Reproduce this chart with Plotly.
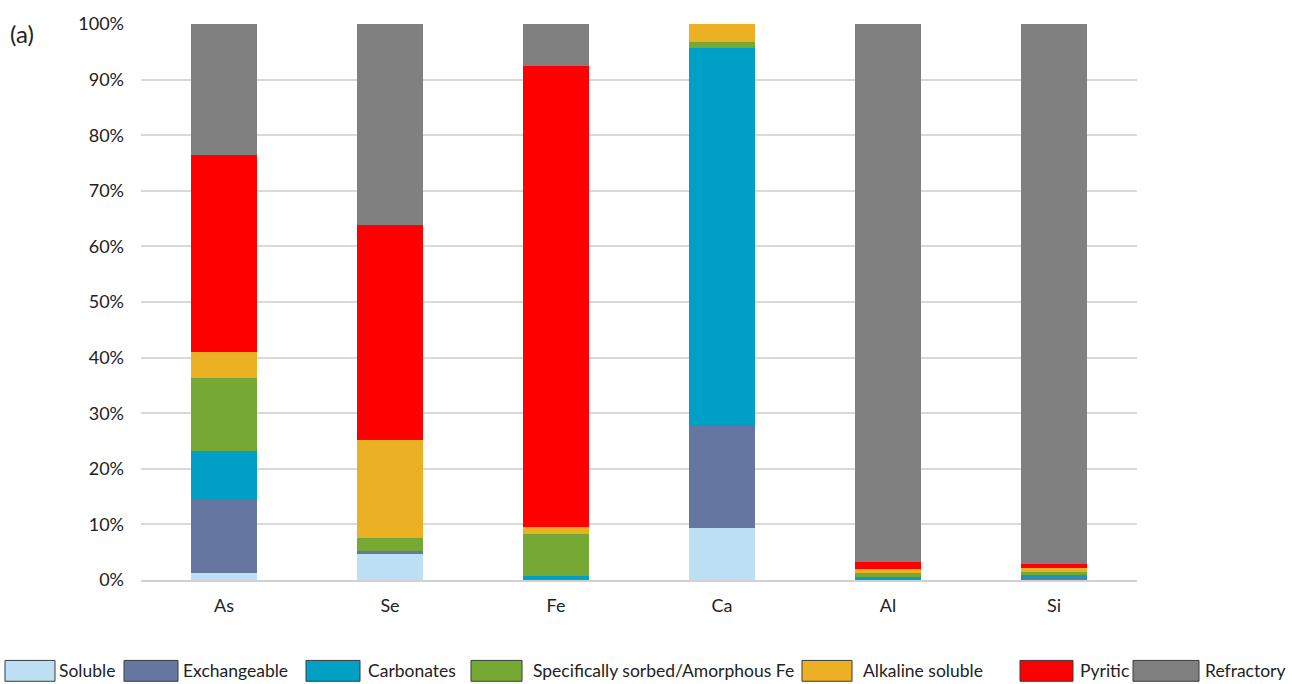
import plotly.graph_objects as go

elements = ["As", "Se", "Fe", "Ca", "Al", "Si"]
fraction_names = ["Soluble", "Exchangeable", "Carbonates", "Specifically sorbed/Amorphous Fe",
                  "Alkaline soluble", "Pyritic", "Refractory"]

soluble = [1.3, 4.6, 0.0, 9.3, 0.0, 0.0]
exchangeable = [13.3, 0.6, 0.1, 18.4, 0.2, 0.6]
carbonates = [8.6, 0.0, 0.7, 67.9, 0.3, 0.35]
specifically_sorbed = [13.1, 2.3, 7.4, 1.1, 0.7, 0.5]
alkaline_soluble = [4.7, 17.6, 1.4, 3.3, 0.8, 0.75]
pyritic = [35.5, 38.7, 82.9, 0.0, 1.2, 0.75]
refractory = [23.5, 36.2, 7.5, 0.0, 96.8, 97.05]

y_ticks = list(range(0, 101, 10))
y_tick_labels = [f"{v}%" for v in y_ticks]

series = [soluble, exchangeable, carbonates, specifically_sorbed, alkaline_soluble, pyritic, refractory]
colors = ["#BDDFF3", "#6577A0", "#00A0C6", "#76A933", "#EBB023", "#FF0000", "#808080"]

FONT = "Lato"
L, R, T, B = 141, 155, 20, 104
W, H = 1292, 684
PW, PH = W - L - R, H - T - B

fig = go.Figure()
for name, vals, c in zip(fraction_names, series, colors):
    fig.add_trace(go.Bar(x=elements, y=vals, name=name, marker=dict(color=c, line=dict(width=0)),
                         showlegend=False))

def px2x(p):
    return (p - L) / PW

def py2y(p):
    return (H - B - p) / PH

# manual legend
legend_items = [
    (5, 55, 57), (124, 178, 181), (306, 360, 366), (471, 522, 531),
    (802, 852, 861), (1020, 1073, 1078), (1133, 1199, 1203),
]
shapes = []
annotations = []
for (x0, x1, tx), name, c in zip(legend_items, fraction_names, colors):
    shapes.append(dict(type="rect", xref="paper", yref="paper",
                       x0=px2x(x0), x1=px2x(x1), y0=py2y(682), y1=py2y(661),
                       fillcolor=c, line=dict(color="#3a3a3a", width=1)))
    annotations.append(dict(text=name, xref="paper", yref="paper", x=px2x(tx), y=py2y(671.5),
                            xanchor="left", yanchor="middle", showarrow=False,
                            font=dict(family=FONT, size=17.5, color="#222222")))

annotations.append(dict(text="(a)", xref="paper", yref="paper", x=px2x(8), y=py2y(30),
                        xanchor="left", yanchor="middle", showarrow=False,
                        font=dict(family=FONT, size=24, color="#222222")))

fig.update_layout(
    barmode="stack",
    bargap=0.6,
    width=W, height=H,
    margin=dict(l=L, r=R, t=T, b=B, pad=0),
    paper_bgcolor="white",
    plot_bgcolor="white",
    font=dict(family=FONT, size=18, color="#222222"),
    shapes=shapes,
    annotations=annotations,
    showlegend=False,
    xaxis=dict(showgrid=False, showline=True, linecolor="#d0d0d0", linewidth=2,
               ticks="", tickfont=dict(size=18), ticklabelstandoff=8),
    yaxis=dict(range=[0, 100], tickvals=y_ticks, ticktext=y_tick_labels,
               showgrid=True, gridcolor="#d9d9d9", gridwidth=1.5, zeroline=False,
               showline=False, ticks="", tickfont=dict(size=18), ticklabelstandoff=16),
)

fig.write_html("out.html", config={"displayModeBar": False},
               post_script="document.body.style.margin='0';document.body.style.padding='0';")
